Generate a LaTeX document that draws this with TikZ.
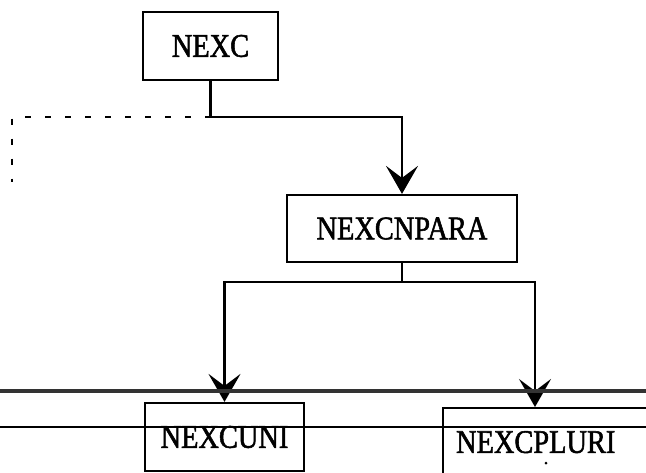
\documentclass[tikz,border=0pt]{standalone}
\usepackage{fontspec}
\setmainfont[FakeStretch=0.86,FakeBold=1.6]{Liberation Serif}
\usetikzlibrary{arrows.meta,calc}
\begin{document}
\begin{tikzpicture}[x=1pt,y=-1pt,
   box/.style={rectangle, draw, line width=2.2pt, inner sep=0pt, font=\fontsize{33}{40}\selectfont},
   arr/.style={line width=2.2pt, -{Stealth[length=28pt, width=32pt, inset=12pt]}},
   link/.style={line width=2.2pt},
   dashline/.style={line width=2.4pt, dash pattern=on 6pt off 14pt},
   rule/.style={line width=3.2pt, black!80}]
   \useasboundingbox (0,0) rectangle (646,472);
   \clip (0,0) rectangle (646,472);
   \node[box, minimum width=135pt, minimum height=68pt] (nexc) at (210.5,46) {NEXC};
   \node[box, minimum width=230pt, minimum height=67pt] (para) at (402,228.5) {NEXCNPARA};
   \node[box, minimum width=159pt, minimum height=68pt] (uni) at (224.5,437) {NEXCUNI};
   \node[box, anchor=north west, text width=190pt, align=left, inner xsep=13pt, minimum height=68pt] (pluri) at (442,407) {NEXCPLURI};
   \coordinate (j1) at (210.5,117);
   \coordinate (j2) at (402,282);
   \coordinate (dcorner) at (12,117);
   \coordinate (dend) at (12,182);
   \draw[link] (nexc) -- (j1);
   \draw[arr] (j1) -| (para);
   \draw[dashline] (j1) -- (dcorner) -- (dend);
   \draw[link] (para) -- (j2);
   \draw[arr] (j2) -| (uni);
   \draw[arr] (j2) -| ($(pluri.north west)+(93,0)$);
   \draw[rule] (0,391) -- (646,391);
   \draw[line width=1.6pt] (0,427) -- (646,427);
   \fill (546,463) circle (1.5);
\end{tikzpicture}
\end{document}
